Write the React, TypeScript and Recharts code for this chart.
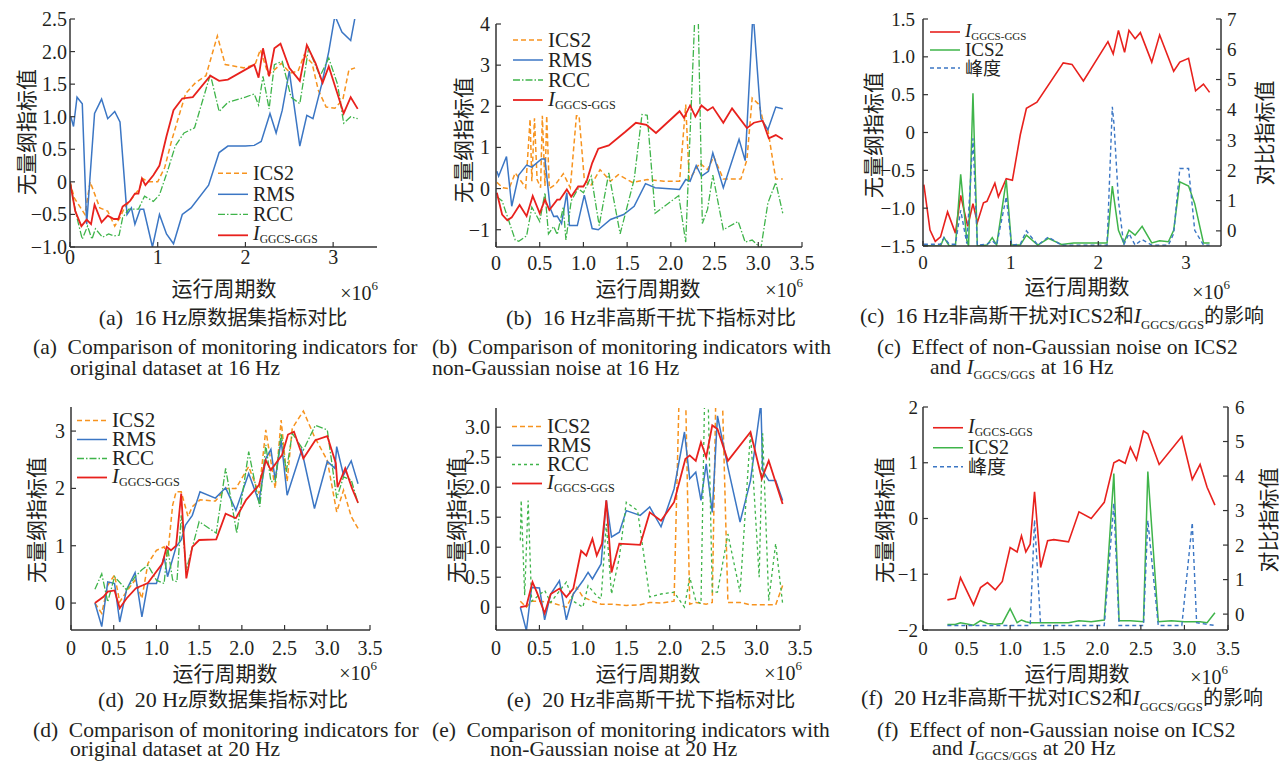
import React from "react";
import { LineChart, Line, XAxis, YAxis, Legend } from "recharts";

type Pt = [number, number];

// (a) 16 Hz original dataset
const aICS2: Pt[] = [[0,0],[0.05,-0.25],[0.17,-0.5],[0.23,0],[0.34,-0.4],[0.43,-0.45],[0.51,-0.68],[0.57,-0.55],[0.62,-0.4],[0.74,-0.2],[0.8,-0.08],[0.83,0.05],[0.89,0],[1.0,0],[1.08,0.22],[1.16,0.64],[1.25,1.05],[1.32,1.36],[1.43,1.52],[1.55,1.63],[1.68,2.24],[1.77,1.8],[1.98,1.75],[2.11,1.8],[2.17,2.03],[2.26,1.65],[2.34,1.73],[2.41,1.82],[2.51,1.67],[2.6,1.7],[2.67,1.95],[2.76,1.82],[2.83,1.41],[2.92,1.15],[3.02,1.13],[3.11,1.26],[3.18,1.72],[3.25,1.75]];
const aRMS: Pt[] = [[0.01,1.0],[0.04,0.85],[0.08,1.3],[0.14,1.2],[0.19,-0.65],[0.28,1.05],[0.36,1.27],[0.43,0.97],[0.51,1.08],[0.57,0.92],[0.65,-0.5],[0.7,-0.4],[0.74,-0.65],[0.8,-0.42],[0.84,-0.42],[0.94,-1.0],[1.02,-0.5],[1.1,-0.8],[1.18,-0.95],[1.28,-0.5],[1.38,-0.4],[1.58,-0.05],[1.7,0.45],[1.8,0.55],[2.0,0.55],[2.1,0.56],[2.18,0.62],[2.28,1.05],[2.35,0.75],[2.42,1.1],[2.5,1.7],[2.62,0.55],[2.7,1.02],[2.77,0.97],[2.87,1.5],[2.95,2.0],[3.02,2.55],[3.1,2.3],[3.2,2.17],[3.26,2.6]];
const aRCC: Pt[] = [[0,0],[0.07,-0.5],[0.14,-0.88],[0.2,-0.68],[0.25,-0.88],[0.29,-0.72],[0.37,-0.85],[0.44,-0.8],[0.5,-0.83],[0.56,-0.82],[0.6,-0.55],[0.67,-0.42],[0.78,-0.42],[0.85,-0.22],[0.95,-0.3],[1.02,-0.2],[1.12,0.2],[1.2,0.55],[1.3,0.75],[1.42,0.83],[1.6,1.65],[1.7,1.08],[1.8,1.22],[2.0,1.3],[2.1,1.35],[2.15,1.18],[2.2,1.62],[2.27,1.12],[2.33,1.8],[2.42,1.85],[2.52,1.3],[2.62,1.2],[2.72,2.05],[2.85,1.62],[2.95,1.9],[3.05,1.5],[3.12,0.9],[3.2,1.0],[3.28,0.97]];
const aIGG: Pt[] = [[0,0],[0.06,-0.45],[0.13,-0.68],[0.19,-0.58],[0.24,-0.65],[0.28,-0.35],[0.36,-0.62],[0.43,-0.52],[0.5,-0.57],[0.55,-0.57],[0.6,-0.38],[0.68,-0.3],[0.74,-0.18],[0.78,-0.18],[0.82,0.05],[0.86,-0.05],[0.95,0.1],[1.02,0.25],[1.1,0.7],[1.18,1.1],[1.28,1.28],[1.4,1.3],[1.6,1.63],[1.7,1.55],[1.8,1.57],[2.1,1.8],[2.15,1.6],[2.2,2.05],[2.27,1.62],[2.33,2.05],[2.4,2.12],[2.5,1.75],[2.62,1.55],[2.7,2.1],[2.8,1.82],[2.88,1.52],[2.95,1.77],[3.05,1.35],[3.12,1.05],[3.2,1.3],[3.28,1.12]];

// (b) 16 Hz with non-Gaussian noise
const bICS2: Pt[] = [[0.01,0.15],[0.08,0.02],[0.15,0],[0.22,0.38],[0.34,0.02],[0.39,1.69],[0.41,0.18],[0.44,1.71],[0.47,0.22],[0.51,0.02],[0.53,1.77],[0.56,0.06],[0.58,1.77],[0.61,0],[0.68,0.1],[0.77,0.36],[0.85,0.02],[0.92,1.77],[0.95,1.77],[1.01,0.22],[1.08,0.06],[1.19,0.46],[1.31,0.18],[1.4,0.34],[1.56,0.15],[1.73,0.22],[1.92,0.18],[2.1,0.18],[2.17,2.04],[2.21,0.22],[2.26,0.38],[2.33,0.62],[2.42,0.46],[2.49,0.78],[2.6,0.23],[2.8,0.23],[2.87,0.7],[2.93,2.2],[3.01,2.04],[3.06,1.6],[3.11,1.43],[3.2,0.23],[3.28,0.23]];
const bRMS: Pt[] = [[0.01,0.42],[0.03,0.3],[0.12,0.78],[0.18,-0.43],[0.26,0.33],[0.35,0.57],[0.41,0.52],[0.52,0.72],[0.56,0.72],[0.62,-0.48],[0.66,-0.68],[0.7,-0.67],[0.75,-0.85],[0.81,-0.1],[0.84,-0.9],[0.93,-0.9],[1.01,-0.16],[1.1,-0.97],[1.17,-1.0],[1.31,-0.75],[1.46,-0.63],[1.58,-0.43],[1.71,0.12],[1.82,0.02],[2.1,-0.02],[2.17,0.22],[2.22,0.18],[2.29,0.56],[2.35,0.3],[2.43,0.42],[2.48,0.87],[2.6,0.02],[2.78,1.2],[2.85,0.68],[2.94,4.3],[3.03,1.7],[3.11,1.43],[3.2,1.98],[3.28,1.94]];
const bRCC: Pt[] = [[0.01,-0.2],[0.07,-0.3],[0.22,-1.25],[0.26,-1.28],[0.35,-1.15],[0.41,-0.45],[0.5,-0.8],[0.56,-0.1],[0.6,-1.1],[0.66,-0.92],[0.7,-1.12],[0.77,-0.45],[0.8,-1.25],[0.86,-0.3],[0.94,0],[1.0,-0.1],[1.09,0.3],[1.18,-0.9],[1.29,0.38],[1.42,-1.1],[1.58,0.22],[1.67,1.8],[1.73,1.78],[1.82,-0.6],[2.09,-0.17],[2.17,-1.3],[2.28,4.5],[2.31,4.5],[2.36,-0.85],[2.42,-0.5],[2.48,0.33],[2.6,-1.0],[2.77,-0.8],[2.85,-1.3],[2.93,-1.25],[3.03,-1.45],[3.11,-0.35],[3.2,0.15],[3.28,-0.6]];
const bIGG: Pt[] = [[0.01,-0.1],[0.07,-0.63],[0.13,-0.77],[0.18,-0.7],[0.27,-0.4],[0.35,-0.67],[0.42,-0.18],[0.5,-0.6],[0.56,-0.27],[0.61,-0.52],[0.7,-0.27],[0.73,-0.27],[0.81,-0.02],[0.86,-0.2],[0.94,0.05],[1.0,0.05],[1.04,0.2],[1.1,0.62],[1.17,0.97],[1.29,1.05],[1.48,1.38],[1.6,1.6],[1.72,1.55],[1.83,1.35],[2.1,1.88],[2.15,1.72],[2.22,2.02],[2.28,1.75],[2.35,2.02],[2.42,1.9],[2.48,1.98],[2.6,1.6],[2.7,1.95],[2.87,1.47],[2.95,1.6],[3.05,1.65],[3.12,1.22],[3.2,1.3],[3.28,1.2]];

// (c) 16 Hz: I (left axis), ICS2 and kurtosis (right axis)
const cIGG: Pt[] = [[0.01,-0.69],[0.08,-1.29],[0.14,-1.44],[0.2,-1.38],[0.28,-1.05],[0.37,-1.33],[0.43,-0.83],[0.51,-1.24],[0.57,-0.94],[0.62,-1.19],[0.69,-0.93],[0.73,-0.91],[0.82,-0.67],[0.86,-0.85],[0.95,-0.61],[1.02,-0.63],[1.11,-0.03],[1.18,0.32],[1.3,0.4],[1.6,0.92],[1.7,0.9],[1.83,0.68],[2.11,1.2],[2.17,1.04],[2.23,1.35],[2.3,1.06],[2.35,1.35],[2.42,1.24],[2.48,1.32],[2.61,0.93],[2.7,1.29],[2.86,0.81],[2.93,0.93],[3.03,0.98],[3.11,0.55],[3.2,0.64],[3.27,0.53]];
const cICS2: Pt[] = [[0.01,-0.47],[0.08,-0.5],[0.2,-0.5],[0.24,-0.22],[0.3,-0.5],[0.37,-0.5],[0.43,1.87],[0.5,-0.31],[0.52,-0.5],[0.57,4.55],[0.62,-0.5],[0.73,-0.47],[0.79,-0.22],[0.84,-0.47],[0.95,1.68],[1.01,-0.47],[1.11,-0.47],[1.18,-0.14],[1.31,-0.47],[1.43,-0.25],[1.58,-0.45],[1.72,-0.4],[2.1,-0.4],[2.16,1.48],[2.23,0.02],[2.29,-0.4],[2.35,0.02],[2.42,-0.14],[2.5,0.15],[2.61,-0.4],[2.7,-0.33],[2.8,-0.36],[2.86,0.02],[2.93,1.62],[3.03,1.48],[3.1,0.9],[3.2,-0.4],[3.27,-0.4]];
const cKurt: Pt[] = [[0.01,-0.44],[0.2,-0.44],[0.24,-0.22],[0.3,-0.44],[0.37,-0.44],[0.43,0.68],[0.5,-0.42],[0.57,3.06],[0.62,-0.47],[0.73,-0.44],[0.79,-0.33],[0.84,-0.47],[0.95,1.13],[1.01,-0.47],[1.11,-0.44],[1.18,0],[1.31,-0.47],[1.43,-0.2],[1.58,-0.47],[2.1,-0.47],[2.16,4.1],[2.18,3.5],[2.23,1.0],[2.29,-0.47],[2.35,-0.09],[2.42,-0.47],[2.5,-0.29],[2.61,-0.47],[2.8,-0.47],[2.86,-0.09],[2.93,2.06],[3.03,2.06],[3.1,0.02],[3.2,-0.47],[3.27,-0.47]];

// (d) 20 Hz original dataset
const dICS2: Pt[] = [[0.28,0],[0.36,-0.18],[0.43,0.31],[0.51,0.49],[0.57,0.02],[0.65,0.2],[0.75,0.4],[0.83,0.08],[0.9,0.69],[1.0,0.92],[1.09,0.98],[1.13,0.81],[1.19,1.71],[1.23,1.94],[1.29,1.94],[1.37,1.51],[1.42,1.68],[1.51,1.8],[1.69,1.78],[1.81,2.0],[1.93,2.0],[2.08,2.38],[2.2,1.91],[2.28,3.02],[2.34,2.47],[2.39,2.0],[2.46,3.19],[2.53,2.12],[2.59,3.05],[2.72,3.35],[2.85,2.9],[3.0,2.49],[3.11,1.59],[3.19,1.97],[3.28,1.51],[3.36,1.3]];
const dRMS: Pt[] = [[0.28,0],[0.36,-0.41],[0.43,0.37],[0.51,0.34],[0.57,-0.33],[0.65,0.23],[0.75,0.53],[0.83,-0.24],[0.9,0.34],[1.0,0.34],[1.09,0.81],[1.13,0.46],[1.23,0.98],[1.29,1.1],[1.34,1.36],[1.42,1.53],[1.51,1.94],[1.69,1.83],[1.81,2.01],[1.93,1.62],[2.08,2.26],[2.2,1.77],[2.28,2.52],[2.34,2.68],[2.39,2.15],[2.46,2.84],[2.53,1.88],[2.7,2.67],[2.85,1.65],[3.0,2.47],[3.09,2.35],[3.11,2.73],[3.19,2.23],[3.28,2.48],[3.36,2.08]];
const dRCC: Pt[] = [[0.28,0.24],[0.36,0.51],[0.43,0.02],[0.51,0.46],[0.65,0.23],[0.75,0.46],[0.83,0.58],[0.9,0.66],[1.0,0.4],[1.09,0.34],[1.13,0.98],[1.19,0.4],[1.24,0.37],[1.29,1.53],[1.35,0.58],[1.5,1.42],[1.7,1.22],[1.81,2.35],[1.94,1.22],[2.08,2.64],[2.21,1.68],[2.28,2.76],[2.34,2.12],[2.39,2.12],[2.46,2.96],[2.52,2.29],[2.59,2.96],[2.72,2.67],[2.86,3.1],[3.0,3.02],[3.11,1.83],[3.19,2.2],[3.28,2.15],[3.36,1.74]];
const dIGG: Pt[] = [[0.28,0],[0.38,0.11],[0.43,0.2],[0.51,0.22],[0.57,-0.09],[0.65,0.08],[0.76,0.26],[0.84,0.31],[0.9,0.35],[1.0,0.55],[1.07,0.69],[1.12,0.98],[1.17,0.92],[1.23,1.0],[1.29,1.91],[1.35,0.43],[1.42,0.98],[1.5,1.1],[1.7,1.11],[1.81,1.56],[1.93,1.48],[2.05,1.8],[2.2,2.06],[2.28,2.49],[2.34,2.32],[2.47,2.58],[2.54,2.94],[2.61,2.99],[2.72,2.52],[2.86,2.84],[3.0,2.91],[3.1,2.44],[3.12,2.02],[3.21,2.35],[3.29,2.0],[3.36,1.75]];

// (e) 20 Hz with non-Gaussian noise
const eICS2: Pt[] = [[0.28,0.1],[0.35,0],[0.41,0.1],[0.5,0.1],[0.63,0.08],[0.81,0],[0.93,0.33],[1.0,0.17],[1.11,0.1],[1.21,0.05],[1.33,0.05],[1.5,0.03],[1.66,0.04],[1.77,0.08],[1.9,0.07],[2.05,0.1],[2.15,6],[2.23,0.05],[2.3,0.08],[2.42,0.05],[2.49,0.08],[2.56,6],[2.67,0.08],[2.81,0.08],[2.93,0.04],[3.06,0.04],[3.22,0.04],[3.3,0.36]];
const eRMS: Pt[] = [[0.28,0],[0.35,-0.39],[0.41,0.33],[0.5,0.32],[0.56,-0.21],[0.63,0.22],[0.73,0.44],[0.81,-0.21],[0.89,0.22],[1.0,0.44],[1.06,0.58],[1.11,0.47],[1.21,0.72],[1.27,1.78],[1.33,1.17],[1.42,1.25],[1.5,1.61],[1.66,1.53],[1.77,1.67],[1.9,1.34],[2.05,1.97],[2.17,2.92],[2.23,2.14],[2.3,2.25],[2.36,1.78],[2.42,2.39],[2.49,1.58],[2.55,3.19],[2.67,2.33],[2.81,1.42],[2.93,2.11],[3.05,3.4],[3.07,2.28],[3.14,2.11],[3.22,2.11],[3.3,1.78]];
const eRCC: Pt[] = [[0.28,1.11],[0.29,1.78],[0.33,0.2],[0.37,1.78],[0.41,0.1],[0.56,0.28],[0.63,0.08],[0.81,0.42],[0.89,0.1],[1.0,0],[1.06,0.36],[1.17,0.17],[1.21,0.14],[1.27,1.39],[1.33,0.22],[1.42,0.83],[1.5,1.75],[1.63,1.61],[1.77,0.17],[1.9,0.22],[2.05,0.25],[2.17,0],[2.23,0.5],[2.3,0.11],[2.36,0.06],[2.42,5],[2.49,0.25],[2.55,0.25],[2.67,1.22],[2.81,0.25],[2.93,2.92],[3.03,0.5],[3.07,2.9],[3.14,0.11],[3.22,1.06],[3.3,0.06]];
const eIGG: Pt[] = [[0.28,0],[0.35,0.02],[0.42,0.42],[0.47,0.25],[0.56,-0.1],[0.63,0.22],[0.73,0.31],[0.81,0.17],[0.89,0.31],[0.98,0.94],[1.04,0.86],[1.11,1.14],[1.16,0.86],[1.22,1.06],[1.27,1.78],[1.33,0.58],[1.42,1.06],[1.66,1.04],[1.77,1.58],[1.9,1.44],[2.05,1.75],[2.18,2.47],[2.23,2.53],[2.3,2.44],[2.36,2.75],[2.42,2.5],[2.49,3.03],[2.55,2.97],[2.67,2.44],[2.93,2.92],[3.06,2.14],[3.14,2.44],[3.3,1.72]];

// (f) 20 Hz: I (left axis), ICS2 and kurtosis (right axis)
const fIGG: Pt[] = [[0.28,-1.46],[0.37,-1.43],[0.43,-1.06],[0.58,-1.55],[0.66,-1.24],[0.74,-1.15],[0.83,-1.28],[0.91,-1.13],[1.0,-0.52],[1.08,-0.6],[1.13,-0.31],[1.18,-0.6],[1.23,-0.46],[1.28,0.48],[1.35,-0.88],[1.43,-0.4],[1.5,-0.38],[1.67,-0.42],[1.79,0.12],[1.93,0],[2.08,0.29],[2.19,1.0],[2.25,1.05],[2.32,0.99],[2.38,1.28],[2.45,1.05],[2.53,1.57],[2.58,1.52],[2.71,0.97],[2.97,1.47],[3.09,0.7],[3.18,0.97],[3.26,0.56],[3.35,0.24]];
const fICS2: Pt[] = [[0.28,-0.3],[0.37,-0.3],[0.43,-0.25],[0.58,-0.32],[0.66,-0.19],[0.74,-0.27],[0.83,-0.29],[0.91,-0.27],[1.0,0.16],[1.08,-0.25],[1.13,-0.17],[1.18,-0.22],[1.23,-0.25],[1.35,-0.25],[1.5,-0.25],[1.67,-0.25],[1.79,-0.19],[1.93,-0.22],[2.08,-0.17],[2.19,4.07],[2.25,-0.19],[2.38,-0.19],[2.53,-0.22],[2.58,4.13],[2.7,-0.22],[2.85,-0.19],[3.0,-0.22],[3.18,-0.22],[3.26,-0.25],[3.35,0.04]];
const fKurt: Pt[] = [[0.28,-0.33],[1.23,-0.33],[1.28,2.73],[1.35,-0.33],[2.08,-0.33],[2.19,3.21],[2.25,-0.33],[2.53,-0.33],[2.58,2.71],[2.7,-0.33],[2.97,-0.33],[3.09,2.65],[3.14,-0.25],[3.35,-0.33]];

// tick values
const halfTicks = [0, 0.5, 1, 1.5, 2, 2.5, 3, 3.5];
const unitTicks = [0, 1, 2, 3];

// captions
type Seg = [string, "l" | "z" | "i" | "s"];
const zhCaps: Seg[][] = [
  [["(a)  16 Hz", "l"], ["原数据集指标对比", "z"]],
  [["(b)  16 Hz", "l"], ["非高斯干扰下指标对比", "z"]],
  [["(c)  16 Hz", "l"], ["非高斯干扰对", "z"], ["ICS2", "l"], ["和", "z"], ["I", "i"], ["GGCS/GGS", "s"], ["的影响", "z"]],
  [["(d)  20 Hz", "l"], ["原数据集指标对比", "z"]],
  [["(e)  20 Hz", "l"], ["非高斯干扰下指标对比", "z"]],
  [["(f)  20 Hz", "l"], ["非高斯干扰对", "z"], ["ICS2", "l"], ["和", "z"], ["I", "i"], ["GGCS/GGS", "s"], ["的影响", "z"]],
];
const enCaps1 = [
  "(a)  Comparison of monitoring indicators for",
  "(b)  Comparison of monitoring indicators with",
  "(c)  Effect of non-Gaussian noise on ICS2",
  "(d)  Comparison of monitoring indicators for",
  "(e)  Comparison of monitoring indicators with",
  "(f)  Effect of non-Gaussian noise on ICS2",
];
const enCaps2: Seg[][] = [
  [["original dataset at 16 Hz", "l"]],
  [["non-Gaussian noise at 16 Hz", "l"]],
  [["and ", "l"], ["I", "i"], ["GGCS/GGS", "s"], [" at 16 Hz", "l"]],
  [["original dataset at 20 Hz", "l"]],
  [["non-Gaussian noise at 20 Hz", "l"]],
  [["and ", "l"], ["I", "i"], ["GGCS/GGS", "s"], [" at 20 Hz", "l"]],
];

const SERIF = '"Liberation Serif", "Times New Roman", serif';
const CJK = '"Noto Sans CJK SC", sans-serif';
const INK = "#231f20";
const AXC = "#333";
const ORANGE = "#f7931e";
const BLUE = "#3b76c4";
const GREEN = "#3fb44a";
const RED = "#e8211d";

interface Series { name: string; pts: Pt[]; color: string; width: number; dash?: string; right?: boolean }
interface PanelCfg {
  box: [number, number, number, number];
  xDomain: [number, number]; xTicks: number[]; xDec: boolean; xGap: number;
  yDomain: [number, number]; yTicks: number[]; yDec: boolean; yGap: number;
  rDomain?: [number, number]; rTicks?: number[]; rGap?: number;
  tickFont: number;
  series: Series[]; legendOrder: string[];
  legendAt: [number, number]; legendRow: number; legendFont: number;
  xLabel: [number, number]; x10: [number, number]; yLabel: [number, number]; rLabel?: [number, number];
}

const fourSeries = (ics: Pt[], rms: Pt[], rcc: Pt[], igg: Pt[], rccDash: string): Series[] => [
  { name: "ICS2", pts: ics, color: ORANGE, width: 1.5, dash: "5 3" },
  { name: "RMS", pts: rms, color: BLUE, width: 1.5 },
  { name: "RCC", pts: rcc, color: GREEN, width: 1.3, dash: rccDash },
  { name: "IGG", pts: igg, color: RED, width: 1.8 },
];
const threeSeries = (igg: Pt[], ics: Pt[], kurt: Pt[]): Series[] => [
  { name: "IGG", pts: igg, color: RED, width: 1.6 },
  { name: "ICS2", pts: ics, color: GREEN, width: 1.5, right: true },
  { name: "峰度", pts: kurt, color: BLUE, width: 1.4, dash: "4 3", right: true },
];

const panels: PanelCfg[] = [
  {
    box: [70, 19, 377, 247], xDomain: [0, 3.5], xTicks: unitTicks, xDec: false, xGap: 10,
    yDomain: [-1, 2.5], yTicks: [-1, -0.5, 0, 0.5, 1, 1.5, 2, 2.5], yDec: true, yGap: 3, tickFont: 20,
    series: fourSeries(aICS2, aRMS, aRCC, aIGG, "7 2 1.5 2"), legendOrder: ["ICS2", "RMS", "RCC", "IGG"],
    legendAt: [218, 163], legendRow: 20.6, legendFont: 20,
    xLabel: [224, 287], x10: [378, 293], yLabel: [25, 132],
  },
  {
    box: [496, 24, 802, 247], xDomain: [0, 3.5], xTicks: halfTicks, xDec: true, xGap: 16,
    yDomain: [-1.42, 4], yTicks: [-1, 0, 1, 2, 3, 4], yDec: false, yGap: 6, tickFont: 20,
    series: fourSeries(bICS2, bRMS, bRCC, bIGG, "7 2 1.5 2"), legendOrder: ["ICS2", "RMS", "RCC", "IGG"],
    legendAt: [513, 30], legendRow: 20, legendFont: 21,
    xLabel: [648, 287], x10: [803, 290], yLabel: [462, 140],
  },
  {
    box: [923, 19, 1221, 246], xDomain: [0, 3.4], xTicks: unitTicks, xDec: false, xGap: 16,
    yDomain: [-1.5, 1.5], yTicks: [-1.5, -1, -0.5, 0, 0.5, 1, 1.5], yDec: true, yGap: 8,
    rDomain: [-0.5, 7], rTicks: [0, 1, 2, 3, 4, 5, 6, 7], rGap: 6, tickFont: 19,
    series: threeSeries(cIGG, cICS2, cKurt), legendOrder: ["IGG", "ICS2", "峰度"],
    legendAt: [930, 23], legendRow: 18, legendFont: 19,
    xLabel: [1077, 285], x10: [1230, 292], yLabel: [872, 135], rLabel: [1263, 133],
  },
  {
    box: [71, 407, 370, 630], xDomain: [0, 3.5], xTicks: halfTicks, xDec: true, xGap: 18,
    yDomain: [-0.47, 3.42], yTicks: [0, 1, 2, 3], yDec: false, yGap: 6, tickFont: 20,
    series: fourSeries(dICS2, dRMS, dRCC, dIGG, "7 2 1.5 2"), legendOrder: ["ICS2", "RMS", "RCC", "IGG"],
    legendAt: [77, 411], legendRow: 19, legendFont: 21,
    xLabel: [225, 672], x10: [377, 673], yLabel: [35, 520],
  },
  {
    box: [496, 408, 800, 630], xDomain: [0, 3.5], xTicks: halfTicks, xDec: true, xGap: 18,
    yDomain: [-0.38, 3.32], yTicks: [0, 0.5, 1, 1.5, 2, 2.5, 3], yDec: true, yGap: 6, tickFont: 20,
    series: fourSeries(eICS2, eRMS, eRCC, eIGG, "3 3"), legendOrder: ["ICS2", "RMS", "RCC", "IGG"],
    legendAt: [512, 417], legendRow: 19, legendFont: 21,
    xLabel: [648, 672], x10: [802, 673], yLabel: [455, 520],
  },
  {
    box: [923, 407, 1228, 630], xDomain: [0, 3.5], xTicks: halfTicks, xDec: true, xGap: 18,
    yDomain: [-2, 2], yTicks: [-2, -1, 0, 1, 2], yDec: false, yGap: 5,
    rDomain: [-0.46, 6], rTicks: [0, 1, 2, 3, 4, 5, 6], rGap: 7, tickFont: 19,
    series: threeSeries(fIGG, fICS2, fKurt), legendOrder: ["IGG", "ICS2", "峰度"],
    legendAt: [933, 418], legendRow: 19.5, legendFont: 20,
    xLabel: [1077, 672], x10: [1228, 677], yLabel: [883, 520], rLabel: [1267, 520],
  },
];

const zhCapPos: [number, number][] = [[223, 317], [651, 317], [1062, 317], [223, 699], [651, 699], [1062, 699]];
const en1Pos: [number, number][] = [[33, 347], [432, 347], [877, 347], [33, 730], [432, 730], [877, 730]];
const en2Pos: [number, number][] = [[70, 368], [432, 368], [930, 368], [70, 749], [490, 749], [932, 749]];

const YW = 60;
const RW = 50;
const XH = 40;
const MT = 12;
const MR = 20;

function fmt(v: number, dec: boolean): string {
  const s = v === 0 ? "0" : dec ? v.toFixed(1) : String(v);
  return s.replace("-", "\u2212");
}

function AxisTick(props: any) {
  const { x, y, payload, side, gap, font, dec } = props;
  const label = fmt(payload.value, dec);
  const txt = { fontFamily: SERIF, fontSize: font, fill: INK } as const;
  if (side === "b") {
    return (
      <g>
        <line x1={x} y1={y} x2={x} y2={y - 5} stroke={AXC} strokeWidth={1.2} />
        <text x={x} y={y + gap} textAnchor="middle" dominantBaseline="central" {...txt}>{label}</text>
      </g>
    );
  }
  if (side === "l") {
    return (
      <g>
        <line x1={x} y1={y} x2={x + 5} y2={y} stroke={AXC} strokeWidth={1.2} />
        <text x={x - gap} y={y} textAnchor="end" dominantBaseline="central" {...txt}>{label}</text>
      </g>
    );
  }
  return (
    <g>
      <line x1={x} y1={y} x2={x - 5} y2={y} stroke={AXC} strokeWidth={1.2} />
      <text x={x + gap} y={y} textAnchor="start" dominantBaseline="central" {...txt}>{label}</text>
    </g>
  );
}

function SeriesName({ name }: { name: string }) {
  if (name === "IGG") {
    return (
      <span>
        <i>I</i>
        <span style={{ fontSize: "0.58em", position: "relative", top: "0.3em" }}>GGCS-GGS</span>
      </span>
    );
  }
  if (name === "峰度") return <span style={{ fontFamily: CJK, fontSize: "0.95em" }}>峰度</span>;
  return <span>{name}</span>;
}

function LegendBox({ items, row, font }: { items: Series[]; row: number; font: number }) {
  return (
    <div style={{ fontFamily: SERIF, fontSize: font, color: INK, lineHeight: `${row}px` }}>
      {items.map((s) => (
        <div key={s.name} style={{ display: "flex", alignItems: "center", height: row, whiteSpace: "nowrap" }}>
          <svg width={30} height={row} style={{ display: "block" }}>
            <line x1={0} x2={30} y1={row / 2} y2={row / 2} stroke={s.color} strokeWidth={s.width} strokeDasharray={s.dash} />
          </svg>
          <span style={{ marginLeft: 5 }}>
            <SeriesName name={s.name} />
          </span>
        </div>
      ))}
    </div>
  );
}

function Panel({ p }: { p: PanelCfg }) {
  const [x0, y0, x1, y1] = p.box;
  const rw = p.rDomain ? RW : 0;
  const width = YW + (x1 - x0) + rw + MR;
  const height = MT + (y1 - y0) + XH;
  const left = x0 - YW;
  const top = y0 - MT;
  const axisLine = { stroke: AXC, strokeWidth: 1.5 };
  const legendItems = p.legendOrder.map((n) => p.series.find((s) => s.name === n)!);
  return (
    <div style={{ position: "absolute", left, top }}>
      <LineChart width={width} height={height} margin={{ top: MT, right: MR, bottom: 0, left: 0 }}>
        <XAxis
          type="number" dataKey="x" domain={p.xDomain} ticks={p.xTicks} interval={0} allowDataOverflow
          height={XH} axisLine={axisLine} tickLine={false} tickSize={0} tickMargin={0}
          tick={(t: any) => <AxisTick {...t} side="b" gap={p.xGap} font={p.tickFont} dec={p.xDec} />}
        />
        <XAxis xAxisId="top" orientation="top" type="number" dataKey="x" domain={p.xDomain} allowDataOverflow
          height={0} axisLine={axisLine} tick={false} tickLine={false} />
        <YAxis
          type="number" domain={p.yDomain} ticks={p.yTicks} interval={0} allowDataOverflow width={YW}
          axisLine={axisLine} tickLine={false} tickSize={0} tickMargin={0}
          tick={(t: any) => <AxisTick {...t} side="l" gap={p.yGap} font={p.tickFont} dec={p.yDec} />}
        />
        {p.rDomain ? (
          <YAxis
            yAxisId="r" orientation="right" type="number" domain={p.rDomain} ticks={p.rTicks} interval={0}
            allowDataOverflow width={rw} axisLine={axisLine} tickLine={false} tickSize={0} tickMargin={0}
            tick={(t: any) => <AxisTick {...t} side="r" gap={p.rGap} font={p.tickFont} dec={false} />}
          />
        ) : (
          <YAxis yAxisId="r" orientation="right" type="number" domain={p.yDomain} allowDataOverflow width={0}
            axisLine={axisLine} tick={false} tickLine={false} />
        )}
        {p.series.map((s) => (
          <Line
            key={s.name}
            data={s.pts.map(([x, y]) => ({ x, y }))}
            dataKey="y"
            name={s.name}
            yAxisId={s.right ? "r" : 0}
            type="linear"
            stroke={s.color}
            strokeWidth={s.width}
            strokeDasharray={s.dash}
            dot={false}
            activeDot={false}
            isAnimationActive={false}
          />
        ))}
        <Legend
          layout="vertical" align="center" verticalAlign="middle"
          wrapperStyle={{ left: p.legendAt[0] - left, top: p.legendAt[1] - top, width: "auto", height: "auto" }}
          content={() => <LegendBox items={legendItems} row={p.legendRow} font={p.legendFont} />}
        />
      </LineChart>
    </div>
  );
}

function Segs({ segs, latin, cjk }: { segs: Seg[]; latin: number; cjk: number }) {
  return (
    <>
      {segs.map(([t, k], i) => {
        if (k === "z") return <span key={i} style={{ fontFamily: CJK, fontSize: cjk }}>{t}</span>;
        if (k === "i") return <i key={i}>{t}</i>;
        if (k === "s") return <span key={i} style={{ fontSize: latin * 0.58, position: "relative", top: latin * 0.25 }}>{t}</span>;
        return <span key={i}>{t}</span>;
      })}
    </>
  );
}

const abs = (x: number, y: number, extra: React.CSSProperties = {}): React.CSSProperties => ({
  position: "absolute", left: x, top: y, whiteSpace: "pre", ...extra,
});

function AxisTitles() {
  return (
    <svg width={1279} height={761} style={{ position: "absolute", left: 0, top: 0, pointerEvents: "none" }}>
      {panels.map((p, i) => (
        <g key={i} fill={INK}>
          <text x={p.xLabel[0]} y={p.xLabel[1]} textAnchor="middle" dominantBaseline="central" fontFamily={CJK} fontSize={21}>运行周期数</text>
          <text x={p.x10[0]} y={p.x10[1]} textAnchor="end" dominantBaseline="central" fontFamily={SERIF} fontSize={20}>
            ×10<tspan fontSize={13} dy={-8}>6</tspan>
          </text>
          <text transform={`translate(${p.yLabel[0]} ${p.yLabel[1]}) rotate(-90)`} textAnchor="middle" dominantBaseline="central" fontFamily={CJK} fontSize={21}>无量纲指标值</text>
          {p.rLabel && (
            <text transform={`translate(${p.rLabel[0]} ${p.rLabel[1]}) rotate(-90)`} textAnchor="middle" dominantBaseline="central" fontFamily={CJK} fontSize={21}>对比指标值</text>
          )}
        </g>
      ))}
    </svg>
  );
}

export default function App() {
  return (
    <div style={{ position: "absolute", left: 0, top: 0, width: 1279, height: 761, background: "#fff", overflow: "hidden", color: INK }}>
      {panels.map((p, i) => (
        <Panel key={i} p={p} />
      ))}
      <AxisTitles />
      {zhCaps.map((segs, i) => (
        <div key={`z${i}`} style={abs(zhCapPos[i][0], zhCapPos[i][1], { transform: "translate(-50%, -50%)", fontFamily: SERIF, fontSize: 22, lineHeight: "26px" })}>
          <Segs segs={segs} latin={22} cjk={20} />
        </div>
      ))}
      {enCaps1.map((t, i) => (
        <div key={`e${i}`} style={abs(en1Pos[i][0], en1Pos[i][1], { transform: "translateY(-50%)", fontFamily: SERIF, fontSize: 21.5, lineHeight: "24px" })}>{t}</div>
      ))}
      {enCaps2.map((segs, i) => (
        <div key={`f${i}`} style={abs(en2Pos[i][0], en2Pos[i][1], { transform: "translateY(-50%)", fontFamily: SERIF, fontSize: 21.5, lineHeight: "24px" })}>
          <Segs segs={segs} latin={21.5} cjk={20} />
        </div>
      ))}
    </div>
  );
}
